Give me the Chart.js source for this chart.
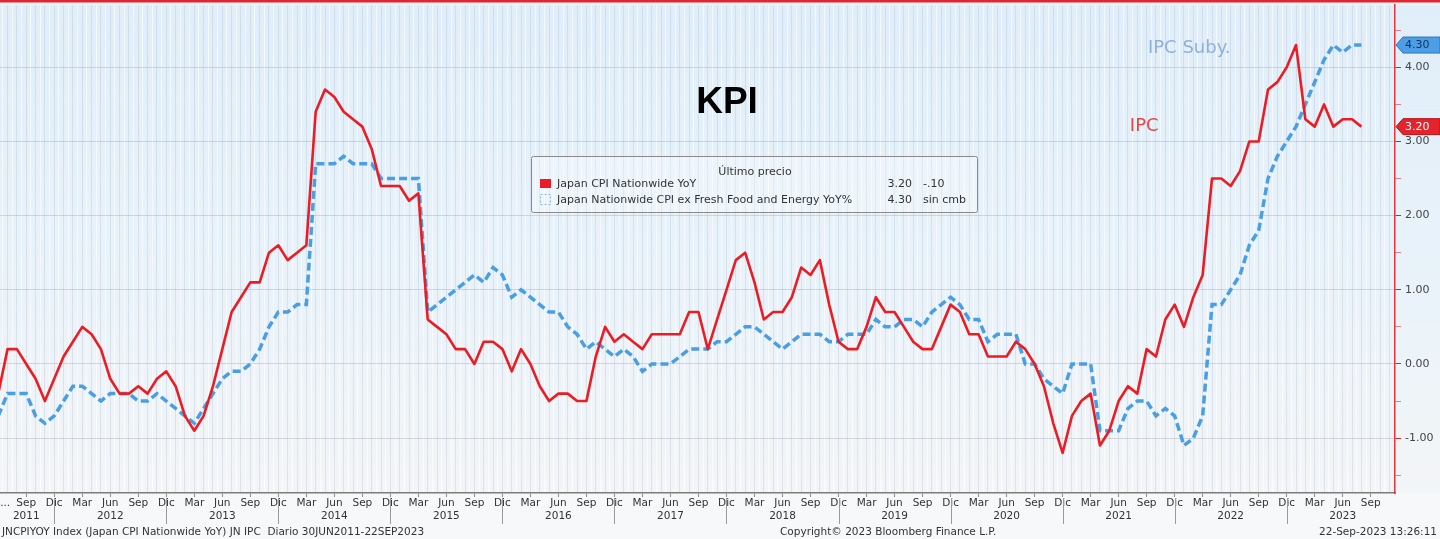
<!DOCTYPE html>
<html>
<head>
<meta charset="utf-8">
<script src="https://cdn.jsdelivr.net/npm/chart.js@4.4.0/dist/chart.umd.min.js"></script>
<style>
html,body{margin:0;padding:0;background:#f7f8f9;}
#wrap{width:1440px;height:539px;position:relative;}
</style>
</head>
<body>
<div id="wrap"><canvas id="c" width="1440" height="539"></canvas></div>
<script>
// ---------------- DATA ----------------
// First observation: June 2011, monthly through August 2023
const firstYear = 2011;
const firstMonth = 6; // June

// Japan CPI Nationwide YoY (%)
const cpiHeadline = [
  -0.4, 0.2, 0.2, 0.0, -0.2, -0.5, -0.2,                       // 2011 Jun-Dec
  0.1, 0.3, 0.5, 0.4, 0.2, -0.2, -0.4, -0.4, -0.3, -0.4, -0.2, -0.1, // 2012
  -0.3, -0.7, -0.9, -0.7, -0.3, 0.2, 0.7, 0.9, 1.1, 1.1, 1.5, 1.6,  // 2013
  1.4, 1.5, 1.6, 3.4, 3.7, 3.6, 3.4, 3.3, 3.2, 2.9, 2.4, 2.4,       // 2014
  2.4, 2.2, 2.3, 0.6, 0.5, 0.4, 0.2, 0.2, 0.0, 0.3, 0.3, 0.2,       // 2015
  -0.1, 0.2, 0.0, -0.3, -0.5, -0.4, -0.4, -0.5, -0.5, 0.1, 0.5, 0.3, // 2016
  0.4, 0.3, 0.2, 0.4, 0.4, 0.4, 0.4, 0.7, 0.7, 0.2, 0.6, 1.0,       // 2017
  1.4, 1.5, 1.1, 0.6, 0.7, 0.7, 0.9, 1.3, 1.2, 1.4, 0.8, 0.3,       // 2018
  0.2, 0.2, 0.5, 0.9, 0.7, 0.7, 0.5, 0.3, 0.2, 0.2, 0.5, 0.8,       // 2019
  0.7, 0.4, 0.4, 0.1, 0.1, 0.1, 0.3, 0.2, 0.0, -0.3, -0.8, -1.2,    // 2020
  -0.7, -0.5, -0.4, -1.1, -0.9, -0.5, -0.3, -0.4, 0.2, 0.1, 0.6, 0.8, // 2021
  0.5, 0.9, 1.2, 2.5, 2.5, 2.4, 2.6, 3.0, 3.0, 3.7, 3.8, 4.0,       // 2022
  4.3, 3.3, 3.2, 3.5, 3.2, 3.3, 3.3, 3.2                            // 2023 Jan-Aug
];

// Japan Nationwide CPI ex Fresh Food and Energy YoY (%)
const cpiCore = [
  -0.7, -0.4, -0.4, -0.4, -0.7, -0.8, -0.7,                          // 2011 Jun-Dec
  -0.5, -0.3, -0.3, -0.4, -0.5, -0.4, -0.4, -0.4, -0.5, -0.5, -0.4, -0.5, // 2012
  -0.6, -0.7, -0.8, -0.6, -0.4, -0.2, -0.1, -0.1, 0.0, 0.2, 0.5, 0.7, // 2013
  0.7, 0.8, 0.8, 2.7, 2.7, 2.7, 2.8, 2.7, 2.7, 2.7, 2.5, 2.5,         // 2014
  2.5, 2.5, 2.5, 0.7, 0.8, 0.9, 1.0, 1.1, 1.2, 1.1, 1.3, 1.2,         // 2015
  0.9, 1.0, 0.9, 0.8, 0.7, 0.7, 0.5, 0.4, 0.2, 0.3, 0.2, 0.1,         // 2016
  0.2, 0.1, -0.1, 0.0, 0.0, 0.0, 0.1, 0.2, 0.2, 0.2, 0.3, 0.3,        // 2017
  0.4, 0.5, 0.5, 0.4, 0.3, 0.2, 0.3, 0.4, 0.4, 0.4, 0.3, 0.3,         // 2018
  0.4, 0.4, 0.4, 0.6, 0.5, 0.5, 0.6, 0.6, 0.5, 0.7, 0.8, 0.9,         // 2019
  0.8, 0.6, 0.6, 0.3, 0.4, 0.4, 0.4, 0.0, 0.0, -0.2, -0.3, -0.4,      // 2020
  0.0, 0.0, 0.0, -0.9, -0.9, -0.9, -0.6, -0.5, -0.5, -0.7, -0.6, -0.7, // 2021
  -1.1, -1.0, -0.7, 0.8, 0.8, 1.0, 1.2, 1.6, 1.8, 2.5, 2.8, 3.0,      // 2022
  3.2, 3.5, 3.8, 4.1, 4.3, 4.2, 4.3, 4.3                              // 2023 Jan-Aug
];

const seriesNames = ['Japan CPI Nationwide YoY', 'Japan Nationwide CPI ex Fresh Food and Energy YoY%'];
const seriesShort = ['IPC', 'IPC Suby.'];
const monthAbbr = ['Ene','Feb','Mar','Abr','May','Jun','Jul','Ago','Sep','Oct','Nov','Dic'];
const xTickMonthNames = ['Mar','Jun','Sep','Dic'];
const yearLabelMonth = 'Jun';
const firstTick = { year: 2011, month: 9 };
const lastTick = { year: 2023, month: 9 };
const yTickValues = [-1, 0, 1, 2, 3, 4];
const chartTitle = 'KPI';
const legendTitle = 'Último precio';
const footerLeft = 'JNCPIYOY Index (Japan CPI Nationwide YoY) JN IPC  Diario 30JUN2011-22SEP2023';
const footerMid = 'Copyright\u00A9 2023 Bloomberg Finance L.P.';
const footerRight = '22-Sep-2023 13:26:11';

// ---------------- helpers ----------------
const mIndex = (y, m) => (y - 2011) * 12 + (m - 1); // months since Jan 2011
const start = mIndex(firstYear, firstMonth);
const toPoints = arr => arr.map((v, i) => ({ x: start + i, y: v }));

const X_MIN = 5.19, X_MAX = 154.6;
const Y_MIN = -1.74, Y_MAX = 4.84;

const tickIdx = [];
for (let t = mIndex(firstTick.year, firstTick.month); t <= mIndex(lastTick.year, lastTick.month); t += 3) {
  if (xTickMonthNames.includes(monthAbbr[t % 12])) tickIdx.push(t);
}
const ELLIPSIS = X_MIN + 0.55;

const FONT = '"DejaVu Sans", Verdana, sans-serif';
const RED = '#ec1c24';
const BLUE = '#4a9fe4';

// ---------------- plugins ----------------
const bgPlugin = {
  id: 'bg',
  beforeDraw(chart) {
    const { ctx, width, height, chartArea } = chart;
    ctx.save();
    const g = ctx.createLinearGradient(0, 0, 0, chartArea.bottom);
    g.addColorStop(0, '#e0eef9');
    g.addColorStop(0.5, '#e8f2fa');
    g.addColorStop(1, '#f3f5f7');
    ctx.fillStyle = g;
    ctx.fillRect(0, 0, width, chartArea.bottom);
    ctx.fillStyle = '#f7f8f9';
    ctx.fillRect(0, chartArea.bottom, width, height - chartArea.bottom);
    ctx.fillStyle = '#f1f6fa';
    ctx.fillRect(0, 0, width, chartArea.top);
    ctx.fillStyle = '#e0262e';
    ctx.fillRect(0, 0, width, 2.5);
    ctx.restore();
  }
};

function fmtChange(d) {
  if (Math.abs(d) < 1e-9) return 'sin cmb';
  return (d < 0 ? '-' : '+') + Math.abs(d).toFixed(2).replace(/^0/, '');
}

const overlayPlugin = {
  id: 'overlay',
  afterDraw(chart) {
    const { ctx, chartArea } = chart;
    const xs = chart.scales.x, ys = chart.scales.y;
    ctx.save();

    // year separators under the axis
    ctx.strokeStyle = '#9a9a9a';
    ctx.lineWidth = 1;
    tickIdx.filter(t => monthAbbr[t % 12] === 'Dic').forEach(t => {
      const px = Math.round(xs.getPixelForValue(t)) + 0.5;
      ctx.beginPath();
      ctx.moveTo(px, chartArea.bottom + 5);
      ctx.lineTo(px, chartArea.bottom + 31);
      ctx.stroke();
    });

    // footer
    ctx.font = '10.5px ' + FONT;
    ctx.fillStyle = '#333';
    ctx.textBaseline = 'middle';
    ctx.textAlign = 'left';
    ctx.fillText(footerLeft, 2, 532, 492);
    ctx.fillText(footerMid, 780, 532, 243);
    ctx.textAlign = 'right';
    ctx.fillText(footerRight, 1437, 532, 133);

    // title + series labels
    ctx.textAlign = 'center';
    ctx.fillStyle = '#000';
    ctx.font = 'bold 37px "Liberation Sans", Arial, sans-serif';
    ctx.fillText(chartTitle, xs.getPixelForValue(83.06), ys.getPixelForValue(3.52));
    ctx.textAlign = 'left';
    ctx.font = '18px ' + FONT;
    ctx.fillStyle = '#8fb0dc';
    ctx.fillText(seriesShort[1], xs.getPixelForValue(128.14), ys.getPixelForValue(4.26));
    ctx.fillStyle = '#e4483f';
    ctx.fillText(seriesShort[0], xs.getPixelForValue(126.2), ys.getPixelForValue(3.21));

    // legend box
    const L = { x: 531, y: 156, w: 446, h: 56 };
    ctx.fillStyle = 'rgba(255,255,255,0.3)';
    ctx.strokeStyle = '#8a8a8a';
    ctx.lineWidth = 1;
    ctx.beginPath();
    ctx.roundRect(L.x + 0.5, L.y + 0.5, L.w, L.h, 2);
    ctx.fill();
    ctx.stroke();
    ctx.font = '11px ' + FONT;
    ctx.fillStyle = '#333';
    ctx.textAlign = 'center';
    ctx.fillText(legendTitle, 755, 172);

    const sets = [cpiHeadline, cpiCore];
    const rowY = [184, 200];
    const nameW = [154, 327];
    sets.forEach((arr, i) => {
      const y = rowY[i];
      if (i === 0) {
        ctx.fillStyle = RED;
        ctx.fillRect(540, y - 5, 11, 9);
      } else {
        ctx.save();
        ctx.strokeStyle = '#8db6de';
        ctx.setLineDash([2, 2]);
        ctx.strokeRect(540.5, y - 5.5, 10, 10);
        ctx.restore();
      }
      ctx.fillStyle = '#333';
      ctx.textAlign = 'left';
      ctx.fillText(seriesNames[i], 557, y, nameW[i]);
      const last = arr[arr.length - 1], prev = arr[arr.length - 2];
      ctx.textAlign = 'right';
      ctx.fillText(last.toFixed(2), 912, y);
      ctx.textAlign = 'left';
      ctx.fillText(fmtChange(last - prev), 923, y);
    });

    // last value tags on right axis
    const tags = [
      { arr: cpiCore, fill: '#4c9fe6', stroke: '#2f74bd', text: '#0f2f5c' },
      { arr: cpiHeadline, fill: '#e4232b', stroke: '#b3161d', text: '#ffffff' }
    ];
    tags.forEach(t => {
      const v = t.arr[t.arr.length - 1];
      const y = ys.getPixelForValue(v);
      const x0 = chartArea.right + 1;
      ctx.beginPath();
      ctx.moveTo(x0, y);
      ctx.lineTo(x0 + 7, y - 8);
      ctx.lineTo(1440, y - 8);
      ctx.lineTo(1440, y + 8);
      ctx.lineTo(x0 + 7, y + 8);
      ctx.closePath();
      ctx.fillStyle = t.fill;
      ctx.fill();
      ctx.strokeStyle = t.stroke;
      ctx.lineWidth = 1;
      ctx.stroke();
      ctx.fillStyle = t.text;
      ctx.font = '11px ' + FONT;
      ctx.textAlign = 'left';
      ctx.fillText(v.toFixed(2), x0 + 9, y + 0.5);
    });

    ctx.restore();
  }
};

// ---------------- chart ----------------
new Chart(document.getElementById('c'), {
  type: 'line',
  data: {
    datasets: [
      {
        label: seriesNames[0],
        data: toPoints(cpiHeadline),
        borderColor: RED,
        borderWidth: 2.6,
        pointRadius: 0,
        tension: 0,
        borderJoinStyle: 'round',
        xAxisID: 'x', yAxisID: 'y'
      },
      {
        label: seriesNames[1],
        data: toPoints(cpiCore),
        borderColor: BLUE,
        borderWidth: 3.5,
        borderDash: [8, 4],
        pointRadius: 0,
        tension: 0,
        xAxisID: 'x', yAxisID: 'y'
      }
    ]
  },
  options: {
    responsive: false,
    animation: false,
    devicePixelRatio: 1,
    layout: { padding: { top: 5, left: 0, right: 0, bottom: 0 } },
    plugins: { legend: { display: false }, tooltip: { enabled: false } },
    scales: {
      xg: {
        type: 'linear', position: 'top', min: X_MIN, max: X_MAX,
        afterBuildTicks: s => {
          const t = [];
          for (let v = Math.ceil(X_MIN * 2) / 2; v <= X_MAX; v += 0.5) t.push({ value: v });
          s.ticks = t;
        },
        ticks: { display: false },
        border: { display: false },
        grid: {
          drawTicks: false,
          lineWidth: 1,
          color: c => (c.tick && Number.isInteger(c.tick.value)) ? 'rgba(150,166,182,0.22)' : 'rgba(255,255,255,0.6)'
        },
        afterFit: s => { s.height = 0; s.paddingLeft = 0; s.paddingRight = 0; }
      },
      x: {
        type: 'linear', position: 'bottom', min: X_MIN, max: X_MAX,
        afterBuildTicks: s => {
          s.ticks = [{ value: ELLIPSIS }].concat(tickIdx.map(v => ({ value: v })));
        },
        ticks: {
          autoSkip: false, maxRotation: 0, minRotation: 0, padding: 0,
          color: '#333',
          font: { family: FONT, size: 10.5, lineHeight: 1.2 },
          callback: (v, i) => {
            if (i === 0) return '...';
            const name = monthAbbr[((v % 12) + 12) % 12];
            const year = firstYear + Math.floor(v / 12);
            if (v === tickIdx[0] || name === yearLabelMonth) return [name, String(year)];
            return name;
          }
        },
        grid: {
          drawOnChartArea: false, tickLength: 4,
          tickColor: c => (c.index === 0 ? 'rgba(0,0,0,0)' : '#8c8c8c')
        },
        border: { color: '#7c7c7c', width: 1.5 },
        afterFit: s => { s.height = 46; s.paddingLeft = 0; s.paddingRight = 0; }
      },
      y: {
        type: 'linear', position: 'right', min: Y_MIN, max: Y_MAX,
        afterBuildTicks: s => {
          const t = [];
          yTickValues.forEach(v => { t.push({ value: v - 0.5 }); t.push({ value: v }); });
          t.push({ value: yTickValues[yTickValues.length - 1] + 0.5 });
          s.ticks = t;
        },
        ticks: {
          padding: 4, color: '#444',
          font: { family: FONT, size: 11 },
          callback: v => (Number.isInteger(v) && yTickValues.includes(v)) ? v.toFixed(2) : ''
        },
        grid: {
          tickLength: 6,
          color: c => (c.tick && Number.isInteger(c.tick.value)) ? 'rgba(165,176,188,0.45)' : 'rgba(0,0,0,0)',
          tickColor: c => (c.tick && Number.isInteger(c.tick.value)) ? '#c8282e' : 'rgba(200,40,46,0.55)'
        },
        border: { color: '#e5353c', width: 1.5 },
        afterFit: s => { s.width = 45; s.paddingTop = 0; s.paddingBottom = 0; }
      }
    }
  },
  plugins: [bgPlugin, overlayPlugin]
});
</script>
</body>
</html>
